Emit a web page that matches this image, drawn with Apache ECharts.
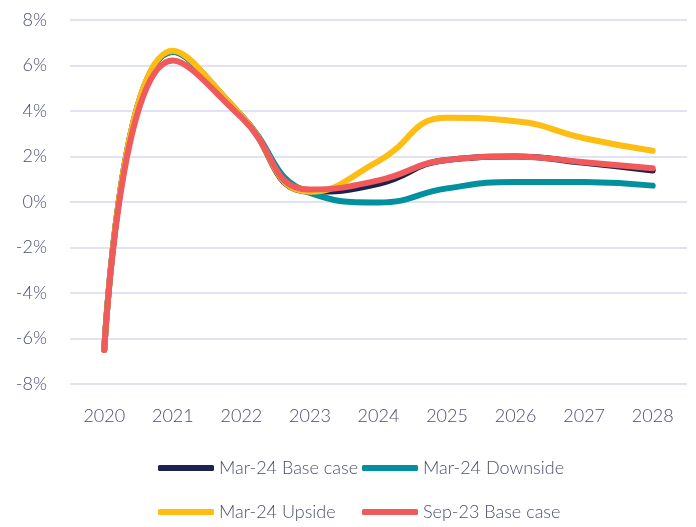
<!DOCTYPE html>
<html lang="en">
  <head>
    <meta charset="UTF-8" />
    <title>GDP scenarios</title>
    <script src="https://cdn.jsdelivr.net/npm/echarts@6/dist/echarts.min.js"></script>
    <style>
      html, body { margin: 0; padding: 0; background: #fff; }
      #chart { width: 696px; height: 527px; }
    </style>
  </head>
  <body>
    <div id="chart"></div>
    <script>
      const years = ['2020', '2021', '2022', '2023', '2024', '2025', '2026', '2027', '2028']
      const baseMar24 = [-6.5, 6.6, 3.8, 0.45, 0.8, 1.85, 2.0, 1.72, 1.38]
      const downMar24 = [-6.5, 6.6, 3.8, 0.4, -0.02, 0.6, 0.88, 0.88, 0.72]
      const upMar24 = [-6.5, 6.65, 3.8, 0.45, 1.8, 3.7, 3.55, 2.8, 2.25]
      const baseSep23 = [-6.5, 6.22, 3.72, 0.55, 0.95, 1.85, 2.0, 1.75, 1.48]

      const textColor = '#4a4f6e'
      const font = 'Lato'

      const line = (name, data, color) => ({
        name,
        type: 'line',
        data,
        smooth: 0.5,
        showSymbol: false,
        symbol: 'none',
        lineStyle: { color, width: 6, cap: 'round' },
        itemStyle: { color }
      })

      const legendBase = {
        orient: 'vertical',
        top: 458,
        padding: 0,
        itemWidth: 56,
        itemHeight: 6,
        itemGap: 24,
        icon: 'roundRect',
        textStyle: { color: textColor, fontSize: 18, fontFamily: font, fontWeight: 300, lineHeight: 20 }
      }

      const chart = echarts.init(document.getElementById('chart'))
      chart.setOption({
        animation: false,
        grid: { left: 70, right: 9, top: 20, bottom: 143 },
        legend: [
          Object.assign({}, legendBase, { left: 158, data: ['Mar-24 Base case', 'Mar-24 Upside'] }),
          Object.assign({}, legendBase, { left: 362, data: ['Mar-24 Downside', 'Sep-23 Base case'] })
        ],
        xAxis: {
          type: 'category',
          data: years,
          boundaryGap: true,
          axisLine: { show: false },
          axisTick: { show: false },
          axisLabel: { color: textColor, fontSize: 18, fontFamily: font, fontWeight: 300, margin: 23 }
        },
        yAxis: {
          type: 'value',
          min: -8,
          max: 8,
          interval: 2,
          axisLabel: { color: textColor, fontSize: 18, fontFamily: font, fontWeight: 300, margin: 23, formatter: '{value}%' },
          splitLine: { lineStyle: { color: '#d6daf0', width: 1.5 } }
        },
        series: [
          line('Mar-24 Base case', baseMar24, '#1c2350'),
          line('Mar-24 Downside', downMar24, '#00909e'),
          line('Mar-24 Upside', upMar24, '#fdbd12'),
          line('Sep-23 Base case', baseSep23, '#f05a5b')
        ]
      })
    </script>
  </body>
</html>
